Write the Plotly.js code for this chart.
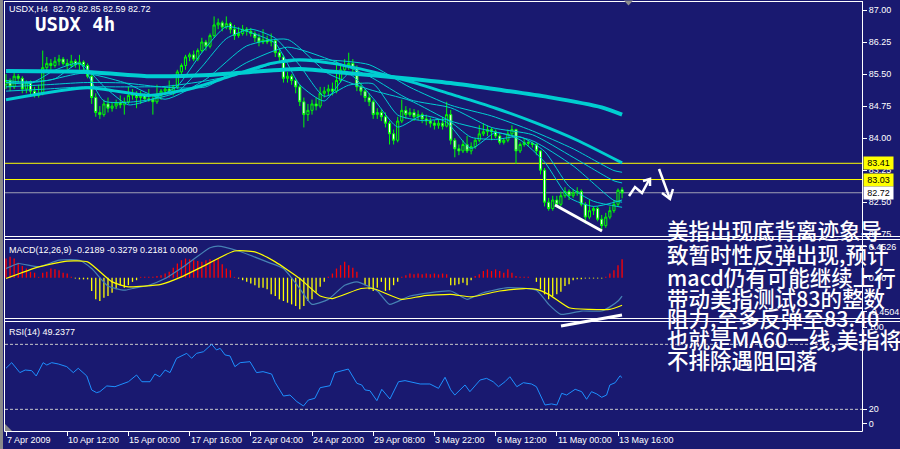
<!DOCTYPE html>
<html><head><meta charset="utf-8">
<script src="https://cdn.plot.ly/plotly-3.0.1.min.js"></script>
<style>
html,body{margin:0;padding:0;background:#191970;overflow:hidden}
#chart{width:900px;height:449px;position:absolute;left:0;top:0}
#strip{position:absolute;left:0;top:0;width:3px;height:449px;background:#8a8a8a;z-index:5}
</style></head><body>
<div id="chart"></div><div id="strip"></div>
<script>
// ---------- DATA ----------
const timeLabels = ["7 Apr 2009","10 Apr 12:00","15 Apr 00:00","17 Apr 16:00","22 Apr 04:00","24 Apr 20:00","29 Apr 08:00","3 May 22:00","6 May 12:00","11 May 00:00","13 May 16:00"];
const timeLabelIdx = [0,15,30,45,60,75,90,105,120,135,150];

const open = [
85.25,85.35,85.20,85.45,85.40,85.15,85.30,85.10,85.00,85.05,
85.65,85.75,85.70,85.80,85.85,85.75,85.70,85.80,85.72,85.78,
85.70,85.45,84.95,84.60,84.55,84.80,84.70,84.75,84.82,84.78,
84.85,85.00,85.05,84.95,85.00,84.92,84.90,84.85,85.00,85.10,
85.15,85.10,85.20,85.55,85.70,85.90,85.95,85.85,86.05,86.25,
86.15,86.40,86.65,86.70,86.60,86.68,86.55,86.40,86.45,86.55,
86.50,86.45,86.35,86.25,86.30,86.25,86.28,86.00,85.90,85.40,
85.45,85.35,85.20,84.85,84.55,84.65,84.80,84.75,85.05,85.10,
85.15,85.10,85.35,85.60,85.70,85.75,85.65,85.20,85.10,84.95,
84.85,84.55,84.60,84.50,84.35,84.10,83.95,84.40,84.65,84.55,
84.60,84.50,84.55,84.45,84.40,84.35,84.30,84.35,84.28,84.55,
83.95,83.75,83.70,83.85,83.70,83.80,83.95,84.10,84.15,84.20,
84.15,84.05,83.90,83.95,84.10,84.20,83.70,83.85,83.90,83.88,
83.85,83.70,83.25,82.50,82.35,82.55,82.45,82.65,82.75,82.65,
82.72,82.75,82.45,82.15,82.30,82.35,82.10,81.95,82.15,82.30,
82.45,82.79];
const high = [
85.50,85.40,85.55,85.50,85.45,85.35,85.35,85.20,85.25,86.05,
85.90,85.85,85.90,85.95,85.90,85.85,85.95,85.85,85.95,85.82,
85.75,85.50,85.05,84.75,84.90,84.95,84.85,84.90,85.00,84.95,
85.20,85.15,85.10,85.10,85.05,85.15,85.00,85.25,85.15,85.20,
85.35,85.25,85.60,85.75,85.95,86.00,86.05,86.10,86.35,86.30,
86.45,86.85,86.80,86.75,86.85,86.72,86.65,86.60,86.65,86.60,
86.58,86.50,86.45,86.55,86.40,86.45,86.30,86.10,85.95,85.55,
85.50,85.40,85.25,84.95,84.80,84.90,84.95,85.20,85.20,85.25,
85.30,85.80,85.70,85.85,86.00,85.85,85.70,85.30,85.15,85.05,
84.90,84.70,84.68,84.60,84.40,84.20,84.50,84.90,84.75,84.70,
84.68,84.65,84.60,84.55,84.48,84.42,84.45,84.50,84.85,84.66,
84.00,83.85,83.95,84.05,83.90,84.00,84.30,84.35,84.30,84.25,
84.20,84.10,84.00,84.20,84.30,84.22,83.90,84.00,83.95,83.92,
83.88,83.72,83.30,82.60,82.65,82.65,82.75,82.85,82.80,82.80,
82.85,82.80,82.50,82.55,82.40,82.40,82.20,82.25,82.40,82.55,
82.82,82.85];
const low = [
85.15,85.10,85.15,85.30,85.05,85.05,85.00,84.95,84.95,85.00,
85.55,85.60,85.65,85.70,85.70,85.60,85.65,85.65,85.60,85.55,
85.40,84.80,84.50,84.45,84.50,84.60,84.62,84.68,84.70,84.55,
84.80,84.90,84.70,84.80,84.85,84.85,84.55,84.80,84.90,85.00,
85.05,85.00,85.15,85.45,85.60,85.80,85.80,85.80,86.00,86.05,
86.10,86.35,86.55,86.50,86.55,86.45,86.30,86.35,86.40,86.40,
86.38,86.25,86.15,86.20,86.20,86.15,85.90,85.80,85.30,85.30,
85.25,85.05,84.75,84.25,84.40,84.55,84.65,84.70,84.95,85.00,
85.00,85.05,85.30,85.55,85.60,85.55,85.10,85.00,84.85,84.75,
84.45,84.45,84.40,84.25,83.85,83.85,83.90,84.35,84.45,84.50,
84.40,84.42,84.35,84.30,84.25,84.20,84.22,84.20,84.25,83.85,
83.55,83.60,83.65,83.65,83.62,83.75,83.90,84.05,84.05,83.95,
84.00,83.85,83.85,83.90,84.05,83.40,83.65,83.80,83.80,83.78,
83.60,83.15,82.40,82.30,82.30,82.40,82.40,82.60,82.55,82.60,
82.65,82.40,82.00,82.10,82.20,82.05,81.85,81.90,82.10,82.25,
82.40,82.59];
const close = [
85.35,85.20,85.45,85.40,85.15,85.30,85.10,85.00,85.05,85.65,
85.75,85.70,85.80,85.85,85.75,85.70,85.80,85.72,85.78,85.70,
85.45,84.95,84.60,84.55,84.80,84.70,84.75,84.82,84.78,84.85,
85.00,85.05,84.95,85.00,84.92,84.90,84.85,85.00,85.10,85.15,
85.10,85.20,85.55,85.70,85.90,85.95,85.85,86.05,86.25,86.15,
86.40,86.65,86.70,86.60,86.68,86.55,86.40,86.45,86.55,86.50,
86.45,86.35,86.25,86.30,86.25,86.28,86.00,85.90,85.40,85.45,
85.35,85.20,84.85,84.55,84.65,84.80,84.75,85.05,85.10,85.15,
85.10,85.35,85.60,85.70,85.75,85.65,85.20,85.10,84.95,84.85,
84.55,84.60,84.50,84.35,84.10,83.95,84.40,84.65,84.55,84.60,
84.50,84.55,84.45,84.40,84.35,84.30,84.35,84.28,84.55,83.95,
83.75,83.70,83.85,83.70,83.80,83.95,84.10,84.15,84.20,84.15,
84.05,83.90,83.95,84.10,84.20,83.70,83.85,83.90,83.88,83.85,
83.70,83.25,82.50,82.35,82.55,82.45,82.65,82.75,82.65,82.72,
82.75,82.45,82.15,82.30,82.35,82.10,81.95,82.15,82.30,82.45,
82.78,82.72];

// moving averages read at sample bars
const maFastIdx = [0,6,12,18,24,30,36,42,48,54,60,66,72,78,84,90,96,102,108,114,120,126,132,138,144,151];
const ma5 = [85.30,85.28,85.59,85.75,84.87,84.84,84.92,85.22,86.00,86.61,86.47,86.22,85.25,84.87,85.50,84.93,84.26,84.53,84.37,83.76,84.13,83.96,83.44,82.61,82.40,82.55];
const ma10 = [85.35,85.30,85.39,85.75,85.21,84.78,84.91,85.08,85.67,86.33,86.55,86.34,85.70,84.98,85.24,85.27,84.54,84.41,84.43,84.02,83.97,84.03,83.69,82.87,82.52,82.38];
const maMidIdx = [0,10,19,29,39,49,59,69,79,89,99,109,119,129,139,149,151];
const ma20 = [85.30,85.35,85.52,85.30,84.91,85.38,86.16,86.31,85.51,85.14,84.88,84.40,84.16,83.94,83.35,82.54,82.50];
const ma30 = [85.20,85.25,85.30,85.29,85.19,85.20,85.77,86.13,85.85,85.45,84.90,84.71,84.25,84.08,83.55,83.00,82.95];
const ma40 = [85.10,85.15,85.20,85.20,85.21,85.34,85.54,85.84,85.83,85.72,85.19,84.77,84.52,84.17,83.75,83.24,83.20];
const ma60Idx = [0,20,35,45,55,65,72,80,90,100,110,120,130,140,151];
const ma60 = [84.90,85.18,85.00,85.15,85.45,85.75,85.83,85.75,85.55,85.30,85.00,84.70,84.35,83.95,83.42];
const maLongIdx = [0,20,35,50,60,72,84,97,109,121,133,146,151];
const maLong = [85.57,85.55,85.45,85.48,85.55,85.62,85.52,85.41,85.29,85.13,84.96,84.72,84.55];

const levels = [83.41, 83.03];
const bidPrice = 82.72;
const priceTicks = [87.00,86.25,85.50,84.75,84.00,83.25,82.50,81.75];

// MACD
const hist = [
0.23,0.25,0.23,0.18,0.14,0.11,0.07,0.06,0.01,0.06,
0.07,0.11,0.10,0.09,0.06,0.05,0.01,-0.01,-0.02,-0.02,
-0.02,-0.16,-0.26,-0.28,-0.24,-0.22,-0.18,-0.14,-0.09,-0.12,
-0.09,-0.05,-0.03,0.01,0.01,0.01,0.01,0.02,0.03,0.05,
0.07,0.12,0.17,0.21,0.23,0.22,0.21,0.20,0.19,0.21,
0.22,0.21,0.23,0.16,0.11,0.09,0.01,-0.01,-0.03,-0.05,
-0.07,-0.09,-0.12,-0.12,-0.14,-0.20,-0.22,-0.26,-0.28,-0.30,
-0.32,-0.34,-0.38,-0.34,-0.28,-0.26,-0.18,-0.11,-0.05,0.01,
0.05,0.11,0.15,0.19,0.15,0.12,0.07,0.00,-0.09,-0.14,
-0.16,-0.12,-0.05,-0.16,-0.15,-0.09,-0.05,0.01,0.03,0.05,
0.04,0.05,0.04,0.05,0.04,0.05,0.04,0.05,0.04,-0.09,
-0.09,-0.08,-0.06,-0.09,-0.03,0.02,0.04,0.08,0.10,0.08,
0.10,0.08,0.06,0.10,0.06,0.02,0.01,0.01,0.01,0.00,
-0.05,-0.14,-0.20,-0.26,-0.22,-0.20,-0.17,-0.10,-0.08,-0.03,
-0.02,-0.02,-0.01,-0.01,-0.01,-0.01,-0.01,0.01,0.05,0.09,
0.15,0.22];
const macdIdx = [0,3,8,13,18,21,25,29,31,35,39,44,50,52,57,64,68,72,75,79,83,86,91,94,99,109,113,117,123,130,133,136,141,146,148,150,151];
const macdMain = [0.11,0.17,0.13,0.21,0.21,0.11,-0.10,-0.15,-0.13,-0.09,-0.01,0.15,0.36,0.38,0.32,0.19,0.11,-0.13,-0.32,-0.26,-0.09,-0.05,-0.16,-0.32,-0.22,-0.16,-0.26,-0.18,-0.12,-0.15,-0.32,-0.44,-0.40,-0.40,-0.35,-0.28,-0.22];
const signalIdx = [0,8,15,20,26,30,38,43,48,56,61,66,72,77,80,87,90,97,102,109,114,121,127,130,133,138,143,148,151];
const signalVals = [-0.01,0.13,0.20,0.19,-0.05,-0.11,-0.08,0.01,0.13,0.32,0.31,0.19,-0.01,-0.22,-0.25,-0.13,-0.13,-0.26,-0.22,-0.20,-0.23,-0.16,-0.13,-0.14,-0.20,-0.36,-0.38,-0.38,-0.33];
const macdTickVals = [0.37, 0, -0.41];
const macdTickText = ["0.4526","0.00","-0.4504"];

// RSI
const rsiIdx = [0,1.4,3.4,4.7,6.3,7.4,9.1,10,11.2,12.8,14.9,16.5,17.7,19.8,21,22.2,23,24.7,26.7,27.9,30,32,33.3,35.3,36.5,37.7,39,40.2,41.8,44.3,45.5,46.7,48.4,50.4,51.6,52.5,53.7,54.9,56.1,57.4,59.8,61.4,63,65.1,66,68,69.6,71.3,72.9,74.1,75.7,77,79.4,80.6,83.9,86,87.2,88,89.2,90.9,92.1,94.1,96.2,97.8,101.5,103.9,106,107.6,109,110,112.5,113.7,116.2,117.8,119.4,120.7,122.3,123.5,125.2,126.8,128.8,130,132.1,133.7,135,136.2,137.4,139.5,141.1,142.3,143.5,144.8,146,147.2,148,149.3,150.5,151];
const rsiVals = [57.9,63.1,53.9,56.3,55.7,50.8,63.1,60.9,63.1,61.9,59.4,53.9,57.9,50.8,37.9,35.4,36.3,41.6,40.9,42.5,45.5,51.7,45.5,45.5,52.6,50.1,56.3,53.9,67.1,71.7,67.1,71.7,73.2,80.0,74.8,76.3,70.2,69.3,59.4,63.1,64.0,53.9,54.8,52.6,44.6,32.3,33.2,27.1,23.1,28.6,30.2,40.0,41.8,53.9,57.2,44.0,42.5,37.9,37.2,28.0,38.5,29.5,45.5,46.5,43.4,43.4,39.4,49.6,38.0,33.2,42.5,36.3,47.1,48.6,45.5,40.9,45.5,50.1,40.9,44.6,43.4,40.9,24.0,25.0,24.0,34.8,33.2,38.5,36.3,29.3,36.3,34.2,31.1,33.2,42.5,44.6,51.0,49.2];
const rsiLevels = [80, 20];
const rsiTickVals = [96, 20, 6.5];
const rsiTickText = ["100","20","0"];

const headerText = "USDX,H4  82.79 82.85 82.59 82.72";
const bigTitle = "USDX 4h";
const macdLabel = "MACD(12,26,9) -0.2189 -0.3279 0.2181 0.0000";
const rsiLabel = "RSI(14) 49.2377";
const noteLines = ["美指出现底背离迹象导","致暂时性反弹出现,预计","macd仍有可能继续上行","带动美指测试83的整数","阻力,至多反弹至83.40","也就是MA60一线,美指将","不排除遇阻回落"];

// ---------- GEOMETRY (pixels -> paper) ----------
const L=5, R=862, T=1, B=431;
const px = v => (v-L)/(R-L);
const py = v => (B-v)/(B-T);
function pathFrom(pts){ return pts.map((p,k)=>(k?'L':'M')+px(p[0]).toFixed(5)+','+py(p[1]).toFixed(5)).join(' '); }

const idx = close.map((_,i)=>i);
const bg = '#191970', cyan = '#00CED1';

// histogram segments
const hxPos=[],hyPos=[],hxNeg=[],hyNeg=[];
hist.forEach((v,i)=>{ if(v>=0){hxPos.push(i,i,null);hyPos.push(0,v,null);} else {hxNeg.push(i,i,null);hyNeg.push(0,v,null);} });

const traces = [
 {type:'candlestick', x:idx, open:open, high:high, low:low, close:close, xaxis:'x', yaxis:'y',
  increasing:{line:{color:'#00ff00',width:1}, fillcolor:bg},
  decreasing:{line:{color:'#00ff00',width:1}, fillcolor:'#ffffff'},
  whiskerwidth:0, hoverinfo:'skip'},
 {type:'scatter',mode:'lines',x:maLongIdx,y:maLong,yaxis:'y',line:{color:cyan,width:4,shape:'spline',smoothing:0.6}},
 {type:'scatter',mode:'lines',x:ma60Idx,y:ma60,yaxis:'y',line:{color:cyan,width:3,shape:'spline',smoothing:0.6}},
 {type:'scatter',mode:'lines',x:maMidIdx,y:ma40,yaxis:'y',line:{color:cyan,width:1,shape:'spline',smoothing:0.6}},
 {type:'scatter',mode:'lines',x:maMidIdx,y:ma30,yaxis:'y',line:{color:cyan,width:1,shape:'spline',smoothing:0.6}},
 {type:'scatter',mode:'lines',x:maMidIdx,y:ma20,yaxis:'y',line:{color:cyan,width:1,shape:'spline',smoothing:0.6}},
 {type:'scatter',mode:'lines',x:maFastIdx,y:ma10,yaxis:'y',line:{color:cyan,width:1,shape:'spline',smoothing:0.6}},
 {type:'scatter',mode:'lines',x:maFastIdx,y:ma5,yaxis:'y',line:{color:cyan,width:1,shape:'spline',smoothing:0.6}},
 {type:'scatter',mode:'lines',x:hxPos,y:hyPos,yaxis:'y2',line:{color:'#ff0000',width:1.3},connectgaps:false},
 {type:'scatter',mode:'lines',x:hxNeg,y:hyNeg,yaxis:'y2',line:{color:'#ffff00',width:1.3},connectgaps:false},
 {type:'scatter',mode:'lines',x:macdIdx,y:macdMain,yaxis:'y2',line:{color:'#4682B4',width:1.2,shape:'spline',smoothing:0.5}},
 {type:'scatter',mode:'lines',x:signalIdx,y:signalVals,yaxis:'y2',line:{color:'#ffff00',width:1.2,shape:'spline',smoothing:0.5}},
 {type:'scatter',mode:'lines',x:rsiIdx,y:rsiVals,yaxis:'y3',line:{color:'#1E90FF',width:1}}
];

const W='#ffffff';
const shapes = [];
function seg(x0,y0,x1,y1,color,w,layer){shapes.push({type:'line',xref:'paper',yref:'paper',x0:px(x0),y0:py(y0),x1:px(x1),y1:py(y1),line:{color:color,width:w},layer:layer||'above'});}
// pane frames
seg(4.5,1.5,862.5,1.5,W,1); seg(4.5,1,4.5,431.5,W,1); seg(862.5,1,862.5,431.5,W,1);
seg(4.5,236.5,900,236.5,W,1); seg(4.5,239.5,900,239.5,W,1);
seg(4.5,318.5,900,318.5,W,1); seg(4.5,321.5,900,321.5,W,1);
seg(4.5,431.5,862.5,431.5,W,1);
// price levels
levels.forEach(v=>shapes.push({type:'line',xref:'paper',yref:'y',x0:0,x1:1,y0:v,y1:v,line:{color:'#ffff00',width:1},layer:'below'}));
shapes.push({type:'line',xref:'paper',yref:'y',x0:0,x1:1,y0:bidPrice,y1:bidPrice,line:{color:'#a0a0b4',width:1},layer:'below'});
// RSI levels
rsiLevels.forEach(v=>shapes.push({type:'line',xref:'paper',yref:'y3',x0:0,x1:1,y0:v,y1:v,line:{color:'#c8c8c8',width:1,dash:'3px,2px'},layer:'below'}));
// hand drawn marks
const priceDiv = [[555,205],[602,231]];
const macdDiv = [[561,326],[622,315]];
const zig = [[629,196],[635,187],[642,193],[649,180]];
const zigHead = [[643,181],[650,179],[650,186]];
const downArr = [[659,169],[670,199]];
const downHead = [[662,193],[670,199],[673,189]];
[priceDiv,macdDiv].forEach(p=>shapes.push({type:'path',xref:'paper',yref:'paper',path:pathFrom(p),line:{color:W,width:3}}));
[zig,zigHead,downArr,downHead].forEach(p=>shapes.push({type:'path',xref:'paper',yref:'paper',path:pathFrom(p),line:{color:W,width:2.5}}));
shapes.push({type:'path',xref:'paper',yref:'paper',path:pathFrom([[624,0.5],[633,0.5],[628.5,5.5]])+' Z',fillcolor:'#8c8c8c',line:{width:0}});
shapes.push({type:'path',xref:'paper',yref:'paper',path:pathFrom([[5,424],[5,431],[12,431]])+' Z',fillcolor:'#8c8c8c',line:{width:0}});

const F = 'Liberation Sans, Arial, sans-serif';
const annotations = [];
function txt(x,y,text,opts){annotations.push(Object.assign({xref:'paper',yref:'paper',x:px(x),y:py(y),text:text,showarrow:false,xanchor:'left',yanchor:'middle',font:{family:F,size:9,color:W},borderpad:0},opts||{}));}
txt(8,8.5,headerText);
txt(34,24,'<b>'+bigTitle+'</b>',{font:{family:'DejaVu Sans Mono, monospace',size:19,color:W}});
txt(8,250,macdLabel);
txt(8,332,rsiLabel);
timeLabels.forEach((t,k)=>annotations.push({xref:'x',yref:'paper',x:timeLabelIdx[k],y:py(440),text:t,showarrow:false,xanchor:'left',yanchor:'middle',xshift:0,font:{family:F,size:9,color:W},borderpad:0}));
// right-side price boxes
[[levels[0],'#ffff00'],[levels[1],'#ffff00'],[bidPrice,'#ffffff']].forEach(([v,c])=>annotations.push({xref:'paper',yref:'y',x:1,y:v,xanchor:'left',yanchor:'middle',xshift:1,text:v.toFixed(2),showarrow:false,bgcolor:c,width:27,align:'center',borderpad:1,font:{family:F,size:9,color:'#000000'}}));
// Chinese note
const noteY = [229.5,253.5,276,297,317.5,338.5,359];
noteLines.forEach((t,k)=>txt(666,noteY[k],t,{font:{family:'Noto Sans CJK SC, sans-serif',size:21.5,color:W,weight:500}}));

const axisCommon = {side:'right',anchor:'x',showgrid:false,zeroline:false,showline:false,ticks:'outside',ticklen:4,tickcolor:W,tickfont:{family:F,size:9,color:W},fixedrange:true};
const layout = {
 width:900,height:449,margin:{l:L,r:900-R,t:T,b:449-B,pad:0},
 paper_bgcolor:bg,plot_bgcolor:bg,showlegend:false,hovermode:false,
 font:{family:F,size:9,color:W},
 boxgap:0.25,
 xaxis:{range:[-0.245,209.8],anchor:'y3',showgrid:false,zeroline:false,showline:false,
   tickvals:timeLabelIdx,ticks:'outside',ticklen:4,tickcolor:W,showticklabels:false,
   rangeslider:{visible:false},fixedrange:true},
 yaxis:Object.assign({domain:[py(236),1],range:[81.7073,87.2108],tickvals:priceTicks,ticktext:priceTicks.map(v=>v.toFixed(2))},axisCommon),
 yaxis2:Object.assign({domain:[py(318),py(239)],range:[-0.4836,0.4644],tickvals:macdTickVals,ticktext:macdTickText},axisCommon),
 yaxis3:Object.assign({domain:[0,py(321.5)],range:[0,101.1],tickvals:rsiTickVals,ticktext:rsiTickText},axisCommon),
 shapes:shapes,annotations:annotations
};
Plotly.newPlot('chart',traces,layout,{staticPlot:true,displayModeBar:false});
</script></body></html>
